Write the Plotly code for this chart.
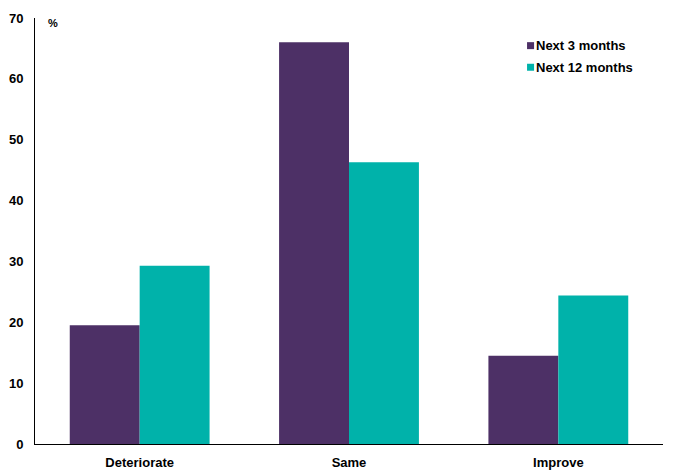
import plotly.graph_objects as go

categories = ["Deteriorate", "Same", "Improve"]
series_names = ["Next 3 months", "Next 12 months"]
next_3_months = [19.5, 66.0, 14.5]
next_12_months = [29.3, 46.3, 24.4]
y_ticks = [0, 10, 20, 30, 40, 50, 60, 70]

PURPLE = "#4D3066"
TEAL = "#00B2AA"
FONT = "Liberation Sans, Arial, sans-serif"

fig = go.Figure()
for name, vals, col in [(series_names[0], next_3_months, PURPLE),
                        (series_names[1], next_12_months, TEAL)]:
    fig.add_trace(go.Bar(
        x=categories, y=vals, name=name, showlegend=False,
        marker=dict(color=col, line=dict(width=0)),
    ))

# Legend drawn as small squares with bold labels beside them
legend_rows = [(series_names[0], PURPLE, 0.9351), (series_names[1], TEAL, 0.8844)]
for label, col, yc in legend_rows:
    fig.add_shape(type="rect", xref="paper", yref="paper",
                  x0=0.7835, x1=0.7947, y0=yc - 0.0082, y1=yc + 0.0082,
                  fillcolor=col, line=dict(width=0))
    fig.add_annotation(text=label, xref="paper", yref="paper",
                       x=0.7955, y=yc, xanchor="left", yanchor="middle",
                       showarrow=False, borderpad=0,
                       font=dict(family=FONT, size=13, color="#000000", weight="bold"))

fig.add_annotation(text="%", xref="paper", yref="paper", x=0.0279, y=0.988,
                   xanchor="center", yanchor="middle", showarrow=False,
                   font=dict(family=FONT, size=11, color="#000000", weight="bold"))

fig.update_layout(
    width=674, height=470,
    margin=dict(l=35, r=11, t=17.5, b=26),
    paper_bgcolor="white", plot_bgcolor="white",
    barmode="group", bargap=0.332, bargroupgap=0,
    font=dict(family=FONT, size=13, color="#000000"),
    xaxis=dict(
        showline=True, linecolor="#000000", linewidth=1,
        showgrid=False, ticks="", ticklabelstandoff=6, automargin=False,
        tickfont=dict(family=FONT, size=13, color="#000000", weight="bold"),
    ),
    yaxis=dict(
        range=[0, 70], tickvals=y_ticks,
        showline=True, linecolor="#000000", linewidth=1,
        showgrid=False, zeroline=False, ticks="", ticklabelstandoff=8,
        automargin=False,
        tickfont=dict(family=FONT, size=13, color="#000000", weight="bold"),
    ),
)

fig.write_html("out.html")
